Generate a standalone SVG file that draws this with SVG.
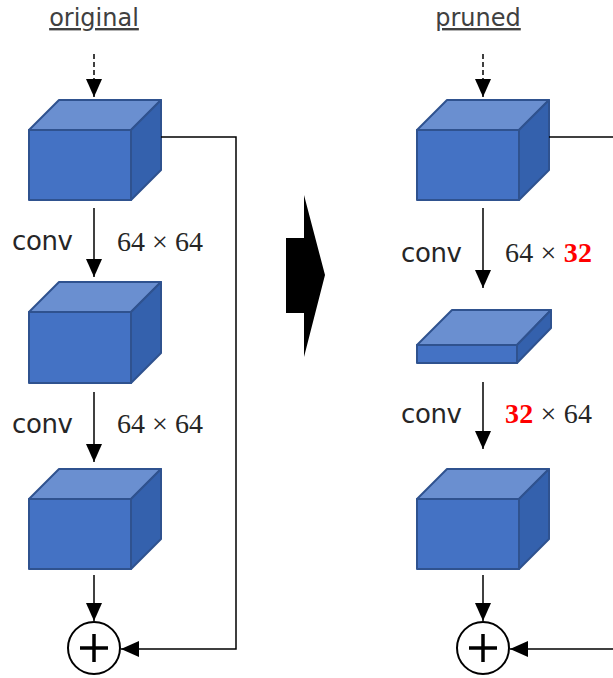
<svg xmlns="http://www.w3.org/2000/svg" width="613" height="678" viewBox="0 0 613 678">
  <style>
    .front { fill: #4472c4; stroke: #2f528f; stroke-width: 2; stroke-linejoin: round; }
    .top { fill: #6a8fd0; stroke: #2f528f; stroke-width: 2; stroke-linejoin: round; }
    .side { fill: #3461ad; stroke: #2f528f; stroke-width: 2; stroke-linejoin: round; }
    .title { font-family: "DejaVu Sans", "Liberation Sans", sans-serif; font-size: 24px; fill: #404040; text-decoration: underline; }
    .lbl { font-family: "DejaVu Sans", "Liberation Sans", sans-serif; font-size: 26px; fill: #262626; }
    .dim { font-family: "Liberation Serif", "DejaVu Serif", serif; font-size: 28px; fill: #262626; }
    .red { fill: #ff0000; font-weight: bold; }
    .wire { fill: none; stroke: #000; stroke-width: 1.5; }
    .dash { stroke-dasharray: 5 3; }
    .sum { fill: #fff; stroke: #000; stroke-width: 2; }
    .plus { stroke: #000; stroke-width: 3.5; }
  </style>
  <defs>
    <marker id="head" viewBox="0 0 18 16" refX="18" refY="8" markerWidth="18" markerHeight="16" markerUnits="userSpaceOnUse" orient="auto">
      <path d="M0,0 L18,8 L0,16 z" fill="#000"/>
    </marker>
  </defs>

  <!-- titles -->
  <text class="title" x="94" y="26" text-anchor="middle">original</text>
  <text class="title" x="478" y="26" text-anchor="middle">pruned</text>

  <!-- left column: original block -->
  <g id="orig-in">
    <rect class="front" x="29" y="130" width="102" height="70"/>
    <polygon class="top" points="29,130 59,100 161,100 131,130"/>
    <polygon class="side" points="131,130 161,100 161,170 131,200"/>
  </g>
  <g id="orig-mid">
    <rect class="front" x="29" y="312" width="102" height="71"/>
    <polygon class="top" points="29,312 59,282 161,282 131,312"/>
    <polygon class="side" points="131,312 161,282 161,353 131,383"/>
  </g>
  <g id="orig-out">
    <rect class="front" x="29" y="499" width="102" height="70"/>
    <polygon class="top" points="29,499 59,469 161,469 131,499"/>
    <polygon class="side" points="131,499 161,469 161,539 131,569"/>
  </g>
  <g id="orig-sum">
    <circle class="sum" cx="94" cy="648" r="26"/>
    <line class="plus" x1="80" y1="648" x2="108" y2="648"/>
    <line class="plus" x1="94" y1="634" x2="94" y2="662"/>
  </g>

  <!-- right column: pruned block -->
  <g id="pruned-in">
    <rect class="front" x="417" y="130" width="102" height="70"/>
    <polygon class="top" points="417,130 447,100 549,100 519,130"/>
    <polygon class="side" points="519,130 549,100 549,170 519,200"/>
  </g>
  <g id="pruned-mid">
    <rect class="front" x="417" y="345" width="100" height="18"/>
    <polygon class="top" points="417,345 452,310 551,310 517,345"/>
    <polygon class="side" points="517,345 551,310 551,328 517,363"/>
  </g>
  <g id="pruned-out">
    <rect class="front" x="417" y="499" width="102" height="70"/>
    <polygon class="top" points="417,499 447,469 549,469 519,499"/>
    <polygon class="side" points="519,499 549,469 549,539 519,569"/>
  </g>
  <g id="pruned-sum">
    <circle class="sum" cx="483" cy="648" r="26"/>
    <line class="plus" x1="469" y1="648" x2="497" y2="648"/>
    <line class="plus" x1="483" y1="634" x2="483" y2="662"/>
  </g>

  <!-- transition arrow -->
  <g id="transition">
    <polygon points="286,238 304,238 304,195 325,275 304,357 304,313 286,313" fill="#000"/>
  </g>

  <!-- connectors -->
  <g id="connectors">
    <line class="wire dash" x1="94" y1="54" x2="94" y2="97" marker-end="url(#head)"/>
    <line class="wire" x1="94" y1="208" x2="94" y2="277" marker-end="url(#head)"/>
    <line class="wire" x1="94" y1="392" x2="94" y2="462" marker-end="url(#head)"/>
    <line class="wire" x1="94" y1="575" x2="94" y2="621" marker-end="url(#head)"/>
    <polyline class="wire" points="161,137 236,137 236,649 121,649" marker-end="url(#head)"/>

    <line class="wire dash" x1="483" y1="54" x2="483" y2="97" marker-end="url(#head)"/>
    <line class="wire" x1="483" y1="208" x2="483" y2="288" marker-end="url(#head)"/>
    <line class="wire" x1="483" y1="382" x2="483" y2="449" marker-end="url(#head)"/>
    <line class="wire" x1="483" y1="575" x2="483" y2="621" marker-end="url(#head)"/>
    <line class="wire" x1="549" y1="137" x2="620" y2="137"/>
    <line class="wire" x1="620" y1="649" x2="510" y2="649" marker-end="url(#head)"/>
  </g>

  <!-- layer labels -->
  <text class="lbl" x="12" y="250" textLength="61">conv</text>
  <text class="dim" x="117" y="251" textLength="86">64 × 64</text>
  <text class="lbl" x="12" y="433" textLength="61">conv</text>
  <text class="dim" x="117" y="433" textLength="86">64 × 64</text>

  <text class="lbl" x="401" y="262" textLength="61">conv</text>
  <text class="dim" x="505" y="262" textLength="87">64 × <tspan class="red">32</tspan></text>
  <text class="lbl" x="401" y="423" textLength="61">conv</text>
  <text class="dim" x="505" y="423" textLength="87"><tspan class="red">32</tspan> × 64</text>
</svg>
